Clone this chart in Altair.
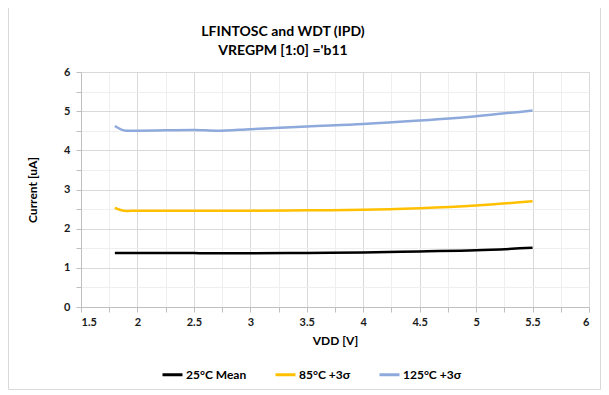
import altair as alt
import pandas as pd

# Data
vdd_125 = [1.8, 1.9, 2.0, 2.5, 2.7, 3.0, 3.5, 4.0, 4.5, 5.0, 5.5]
cur_125 = [4.62, 4.50, 4.50, 4.52, 4.50, 4.54, 4.61, 4.67, 4.76, 4.87, 5.02]
vdd_85 = [1.8, 1.9, 2.0, 2.5, 3.0, 3.5, 4.0, 4.5, 5.0, 5.5]
cur_85 = [2.53, 2.45, 2.46, 2.46, 2.46, 2.47, 2.48, 2.52, 2.59, 2.70]
vdd_25 = [1.8, 2.0, 2.5, 2.6, 3.0, 3.5, 4.0, 4.5, 5.0, 5.5]
cur_25 = [1.38, 1.38, 1.38, 1.37, 1.37, 1.38, 1.39, 1.42, 1.45, 1.51]

series_names = ["25°C Mean", "85°C +3σ", "125°C +3σ"]
series_colors = ["#000000", "#FFC000", "#8EA9DB"]

x_ticks = [1.5 + 0.25 * i for i in range(19)]
y_ticks = [0.5 * i for i in range(13)]

rows = []
for name, xs, ys in [(series_names[0], vdd_25, cur_25),
                     (series_names[1], vdd_85, cur_85),
                     (series_names[2], vdd_125, cur_125)]:
    for i, (x, y) in enumerate(zip(xs, ys)):
        rows.append({"series": name, "vdd": x, "cur": y, "order": i})
df = pd.DataFrame(rows)

FONT = "Lato"

major = "abs(datum.value*2 - round(datum.value*2)) < 0.001"
major_y = "abs(datum.value - round(datum.value)) < 0.001"

x_axis = alt.Axis(
    values=x_ticks,
    format="~g",
    labelExpr=f"{major} ? datum.label : ''",
    grid=True,
    gridColor={"condition": {"test": major, "value": "#d9d9d9"}, "value": "#efefef"},
    gridWidth=1,
    domainColor="#bfbfbf",
    tickColor="#bfbfbf",
    tickSize=5,
    labelFont=FONT, labelFontWeight="bold", labelFontSize=11, labelColor="#1a1a1a",
    labelPadding=4,
    title="VDD [V]", titleFont=FONT, titleFontWeight="bold", titleFontSize=12,
    titleColor="#000000", titlePadding=8,
)
y_axis = alt.Axis(
    values=y_ticks,
    format="~g",
    labelExpr=f"{major_y} ? datum.label : ''",
    grid=True,
    gridColor={"condition": {"test": major_y, "value": "#d9d9d9"}, "value": "#efefef"},
    domainColor="#bfbfbf",
    tickColor="#bfbfbf",
    tickSize=5,
    labelFont=FONT, labelFontWeight="bold", labelFontSize=11, labelColor="#1a1a1a",
    labelPadding=6,
    title="Current [uA]", titleFont=FONT, titleFontWeight="bold", titleFontSize=12,
    titleColor="#000000", titlePadding=24,
)

lines = alt.Chart(df).mark_line(strokeWidth=2.5, interpolate="monotone").encode(
    x=alt.X("vdd:Q", scale=alt.Scale(domain=[1.5, 6], nice=False, zero=False), axis=x_axis),
    y=alt.Y("cur:Q", scale=alt.Scale(domain=[0, 6], nice=False), axis=y_axis),
    color=alt.Color(
        "series:N",
        scale=alt.Scale(domain=series_names, range=series_colors),
        legend=alt.Legend(
            title=None, orient="none", direction="horizontal",
            legendX=80, legendY=291,
            symbolType="stroke", symbolSize=400, symbolStrokeWidth=3,
            labelFont=FONT, labelFontWeight="bold", labelFontSize=12, labelColor="#000000",
            columnPadding=22, labelOffset=2,
        ),
    ),
    order="order:Q",
)

# decorative outer chart border (Excel-style chart area frame)
frame = alt.Chart(pd.DataFrame({"k": [0]})).mark_rect(
    fill=None, stroke="#d9d9d9", strokeWidth=1
).encode(
    x=alt.value(-72.5), x2=alt.value(519.5), y=alt.value(-67.5), y2=alt.value(317.5)
)

chart = alt.layer(frame, lines).properties(
    width=508,
    height=235,
    autosize=alt.AutoSizeParams(type="none"),
    padding={"left": 73, "top": 64, "right": 12, "bottom": 84},
    title=alt.TitleParams(
        text=["LFINTOSC and WDT (IPD)", "VREGPM [1:0] ='b11"],
        font=FONT, fontWeight="bold", fontSize=14, color="#000000",
        anchor="middle", dx=-52, offset=-54, lineHeight=19,
    ),
).configure_view(stroke="#d9d9d9", strokeWidth=1).configure(background="white")

chart.save("out.html", embed_options={"renderer": "svg", "actions": False})
